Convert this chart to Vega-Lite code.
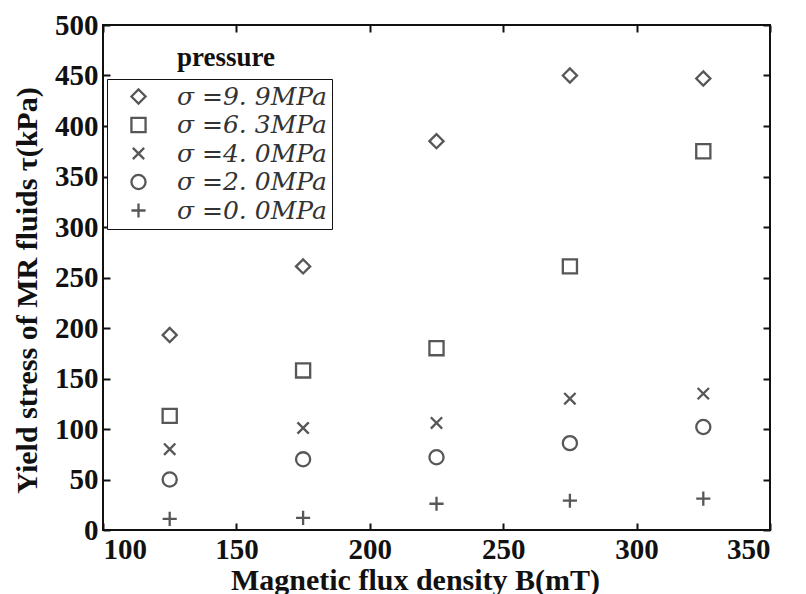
{
  "$schema": "https://vega.github.io/schema/vega-lite/v6.json",
  "autosize": {"type": "none"},
  "padding": {"left": 103, "top": 25, "right": 36, "bottom": 64},
  "width": 667,
  "height": 505,
  "background": "white",
  "title": {
    "text": "pressure",
    "anchor": "start",
    "frame": "group",
    "orient": "top",
    "offset": -61,
    "dx": 74,
    "font": "Liberation Serif",
    "fontWeight": "bold",
    "fontSize": 27,
    "color": "#111"
  },
  "config": {
    "view": {"stroke": "#111", "strokeWidth": 2},
    "axis": {
      "domain": false,
      "grid": false,
      "labelFont": "Liberation Serif",
      "labelFontWeight": "bold",
      "labelFontSize": 29,
      "labelColor": "#111",
      "titleFont": "Liberation Serif",
      "titleFontWeight": "bold",
      "titleFontSize": 30,
      "titleColor": "#111",
      "tickColor": "#111",
      "tickWidth": 2,
      "tickSize": -7
    }
  },
  "data": {
    "values": [
      {"B": 125, "tau": 193, "pressure": "σ =9. 9MPa"},
      {"B": 175, "tau": 261, "pressure": "σ =9. 9MPa"},
      {"B": 225, "tau": 385, "pressure": "σ =9. 9MPa"},
      {"B": 275, "tau": 450, "pressure": "σ =9. 9MPa"},
      {"B": 325, "tau": 447, "pressure": "σ =9. 9MPa"},
      {"B": 125, "tau": 113, "pressure": "σ =6. 3MPa"},
      {"B": 175, "tau": 158, "pressure": "σ =6. 3MPa"},
      {"B": 225, "tau": 180, "pressure": "σ =6. 3MPa"},
      {"B": 275, "tau": 261, "pressure": "σ =6. 3MPa"},
      {"B": 325, "tau": 375, "pressure": "σ =6. 3MPa"},
      {"B": 125, "tau": 80, "pressure": "σ =4. 0MPa"},
      {"B": 175, "tau": 101, "pressure": "σ =4. 0MPa"},
      {"B": 225, "tau": 106, "pressure": "σ =4. 0MPa"},
      {"B": 275, "tau": 130, "pressure": "σ =4. 0MPa"},
      {"B": 325, "tau": 135, "pressure": "σ =4. 0MPa"},
      {"B": 125, "tau": 50, "pressure": "σ =2. 0MPa"},
      {"B": 175, "tau": 70, "pressure": "σ =2. 0MPa"},
      {"B": 225, "tau": 72, "pressure": "σ =2. 0MPa"},
      {"B": 275, "tau": 86, "pressure": "σ =2. 0MPa"},
      {"B": 325, "tau": 102, "pressure": "σ =2. 0MPa"},
      {"B": 125, "tau": 11, "pressure": "σ =0. 0MPa"},
      {"B": 175, "tau": 12, "pressure": "σ =0. 0MPa"},
      {"B": 225, "tau": 26, "pressure": "σ =0. 0MPa"},
      {"B": 275, "tau": 29, "pressure": "σ =0. 0MPa"},
      {"B": 325, "tau": 31, "pressure": "σ =0. 0MPa"}
    ]
  },
  "layer": [
    {
      "mark": {"type": "point", "filled": false, "strokeWidth": 2.3, "color": "#111", "size": 200},
      "encoding": {
        "x": {
          "field": "B", "type": "quantitative",
          "scale": {"domain": [100, 350], "nice": false, "zero": false},
          "axis": {"values": [100, 150, 200, 250, 300, 350], "title": "Magnetic flux density B(mT)", "labelPadding": 12, "titleX": 312, "titleY": 59, "titleBaseline": "alphabetic"}
        },
        "y": {
          "field": "tau", "type": "quantitative",
          "scale": {"domain": [0, 500], "nice": false},
          "axis": {"values": [0, 50, 100, 150, 200, 250, 300, 350, 400, 450, 500], "title": "Yield stress of MR  fluids τ(kPa)", "labelPadding": 12, "titlePadding": 12, "titleY": 265}
        },
        "shape": {
          "field": "pressure", "type": "nominal",
          "scale": {
            "domain": ["σ =9. 9MPa", "σ =6. 3MPa", "σ =4. 0MPa", "σ =2. 0MPa", "σ =0. 0MPa"],
            "range": ["diamond", "square", "M-0.8,-0.8L0.8,0.8M0.8,-0.8L-0.8,0.8", "circle", "M0,-1V1M-1,0H1"]
          },
          "legend": {
            "title": null,
            "orient": "none",
            "legendX": 4,
            "legendY": 54,
            "strokeColor": "#111",
            "fillColor": "white",
            "padding": 5,
            "labelFont": "DejaVu Serif",
            "labelFontStyle": "italic",
            "labelFontSize": 25,
            "labelColor": "#333",
            "labelOffset": 26,
            "symbolSize": 200,
            "symbolStrokeWidth": 2.3,
            "symbolStrokeColor": "#111",
            "symbolFillColor": "transparent",
            "symbolOffset": 14,
            "rowPadding": 2.5
          }
        }
      }
    },
    {
      "mark": {"type": "point", "opacity": 0},
      "encoding": {
        "x": {"field": "B", "type": "quantitative", "axis": {"orient": "top", "labels": false, "title": null, "values": [100, 150, 200, 250, 300, 350]}},
        "y": {"field": "tau", "type": "quantitative", "axis": {"orient": "right", "labels": false, "title": null, "values": [0, 50, 100, 150, 200, 250, 300, 350, 400, 450, 500]}}
      }
    }
  ],
  "resolve": {"axis": {"x": "independent", "y": "independent"}}
}
